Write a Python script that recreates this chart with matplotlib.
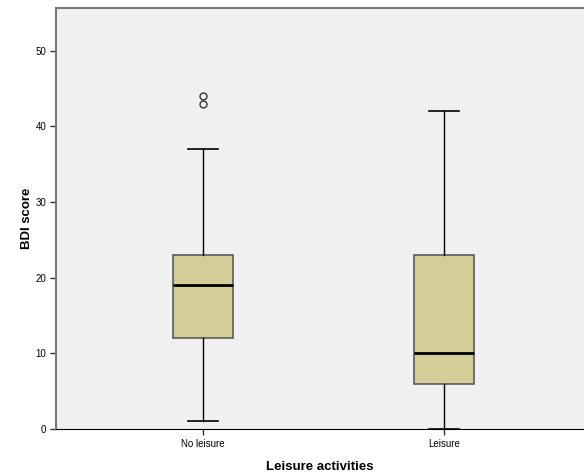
import matplotlib.pyplot as plt

plt.rcParams['font.family'] = ['Liberation Sans', 'DejaVu Sans']

# Box summaries for BDI score by leisure group
groups = ['No leisure', 'Leisure']
whislo = [1, 0]
q1 = [12, 6]
medians = [19, 10]
q3 = [23, 23]
whishi = [37, 42]
fliers = [[43, 44], []]

stats = []
for i, name in enumerate(groups):
    stats.append({'label': name, 'whislo': whislo[i], 'q1': q1[i], 'med': medians[i],
                  'q3': q3[i], 'whishi': whishi[i], 'fliers': fliers[i]})

fig = plt.figure(figsize=(5.84, 4.75), dpi=100)
ax = fig.add_axes([0.0959, 0.0968, 0.9041, 0.886])
ax.set_facecolor('#f0f0f0')

ax.bxp(stats, positions=[0, 1], widths=0.247, capwidths=0.127, patch_artist=True,
       boxprops=dict(facecolor='#d3ce97', edgecolor='#5a5a5a', linewidth=1.2),
       medianprops=dict(color='black', linewidth=2),
       whiskerprops=dict(color='black', linewidth=1),
       capprops=dict(color='black', linewidth=1.2),
       flierprops=dict(marker='o', markerfacecolor='none', markeredgecolor='#333333',
                       markersize=5, markeredgewidth=1))

ax.set_xlim(-0.61, 1.581)
ax.set_ylim(0, 55.6)
ax.set_yticks([0, 10, 20, 30, 40, 50])
ax.set_xticks([0, 1])
ax.set_xticklabels(groups)
ax.tick_params(axis='both', labelsize=7, length=4, width=1, color='#333333', pad=3)

for side in ['left', 'top']:
    ax.spines[side].set_color('#777777')
    ax.spines[side].set_linewidth(1.5)
ax.spines['bottom'].set_color('black')
ax.spines['right'].set_visible(False)

ax.set_xlabel('Leisure activities', fontsize=9.5, fontweight='bold', labelpad=9)
ax.set_ylabel('BDI score', fontsize=9.5, fontweight='bold', labelpad=2)

fig.savefig('out.png', dpi=100, facecolor='white')
